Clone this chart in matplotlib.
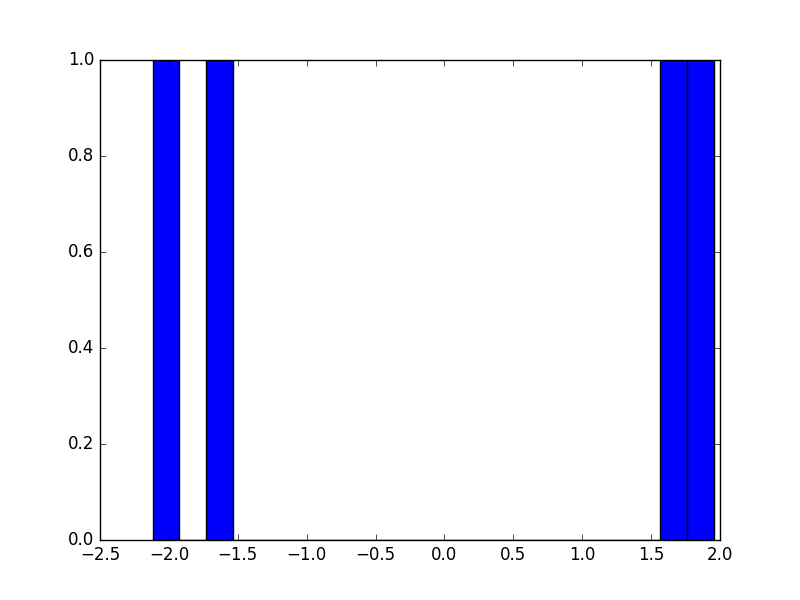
import matplotlib
matplotlib.use("Agg")
import matplotlib.pyplot as plt

# sample values (one per filled bin)
values = [-2.118, -1.62, 1.62, 1.954]
n_bins = 21

plt.style.use("classic")
fig, ax = plt.subplots(figsize=(8, 6))
ax.hist(values, bins=n_bins, color="b", edgecolor="k")
fig.savefig("out.png", dpi=100)
